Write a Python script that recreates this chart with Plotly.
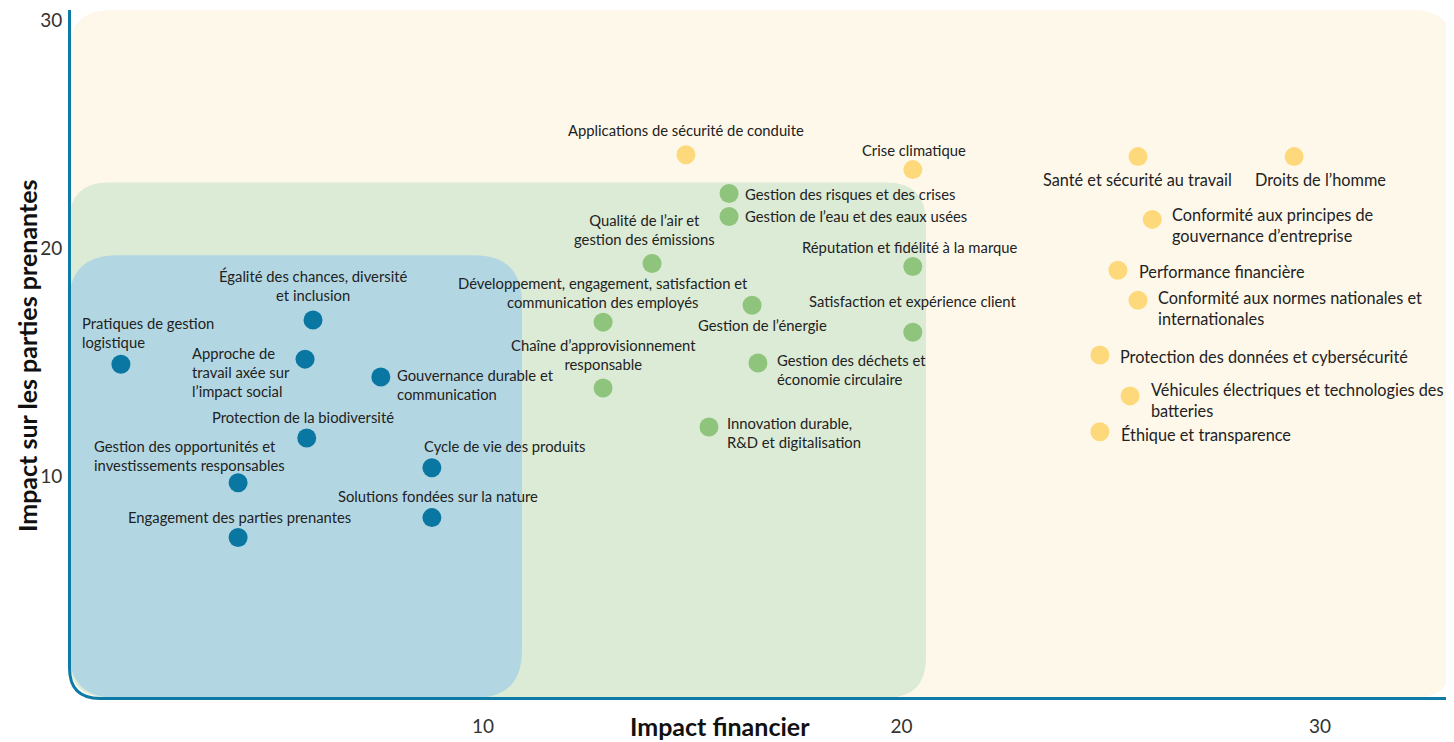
import plotly.graph_objects as go

# ---------------- data ----------------
blue_names = [
    "Pratiques de gestion<br>logistique",
    "Égalité des chances, diversité<br>et inclusion",
    "Approche de<br>travail axée sur<br>l’impact social",
    "Gouvernance durable et<br>communication",
    "Protection de la biodiversité",
    "Gestion des opportunités et<br>investissements responsables",
    "Cycle de vie des produits",
    "Solutions fondées sur la nature",
    "Engagement des parties prenantes",
]
blue_x = [1.35, 5.94, 5.75, 7.56, 5.79, 4.15, 8.78, 8.78, 4.15]
blue_y = [14.93, 16.86, 15.15, 14.37, 11.70, 9.74, 10.39, 8.21, 7.34]

green_names = [
    "Gestion des risques et des crises",
    "Gestion de l’eau et des eaux usées",
    "Qualité de l’air et<br>gestion des émissions",
    "Réputation et fidélité à la marque",
    "Développement, engagement, satisfaction et<br>communication des employés",
    "Gestion de l’énergie",
    "Satisfaction et expérience client",
    "Chaîne d’approvisionnement<br>responsable",
    "Gestion des déchets et<br>économie circulaire",
    "Innovation durable,<br>R&D et digitalisation",
]
green_x = [15.88, 15.88, 14.04, 20.27, 12.87, 16.43, 20.27, 12.87, 16.57, 15.40]
green_y = [22.40, 21.40, 19.34, 19.21, 16.77, 17.51, 16.33, 13.89, 14.98, 12.18]

yellow_names = [
    "Applications de sécurité de conduite",
    "Crise climatique",
    "Santé et sécurité au travail",
    "Droits de l’homme",
    "Conformité aux principes de<br>gouvernance d’entreprise",
    "Performance financière",
    "Conformité aux normes nationales et<br>internationales",
    "Protection des données et cybersécurité",
    "Véhicules électriques et technologies des<br>batteries",
    "Éthique et transparence",
]
yellow_x = [14.85, 20.27, 25.65, 29.38, 25.99, 25.17, 25.65, 24.74, 25.46, 24.74]
yellow_y = [24.10, 23.45, 24.02, 24.02, 21.27, 19.04, 17.73, 15.33, 13.54, 11.97]

tick_vals = [10, 20, 30]
tick_text = ["10", "20", "30"]

# ---------------- label styles (anchor, xshift, yshift, align, size) ----------------
S = 14.8
blue_style = [
    ("left", -41, 32, "left", S),
    ("center", 0, 35, "center", S),
    ("right", -13, -13, "left", S),
    ("left", 14, -8, "left", S),
    ("center", -4, 21, "center", S),
    ("left", -146, 27, "left", S),
    ("left", -10, 22, "left", S),
    ("center", 6, 22, "center", S),
    ("center", 1, 20, "center", S),
]
green_style = [
    ("left", 14, 0, "left", S),
    ("left", 14, 0, "left", S),
    ("center", -8, 34, "center", S),
    ("center", -3, 19, "center", S),
    ("center", 0, 30, "center", S),
    ("center", 10, -20, "center", S),
    ("center", 0, 31, "center", S),
    ("center", 0, 33, "center", S),
    ("left", 17, -6, "left", S),
    ("left", 16, -6, "left", S),
]
Y = 16.3
yellow_style = [
    ("center", 0, 25, "center", S),
    ("center", 1, 20, "center", S),
    ("center", 0, -23, "center", Y),
    ("center", 26, -23, "center", Y),
    ("left", 18, -6, "left", Y),
    ("left", 19, -1, "left", Y),
    ("left", 18, -8, "left", Y),
    ("left", 18, -1, "left", Y),
    ("left", 19, -4, "left", Y),
    ("left", 19, -3, "left", Y),
]

C_BLUE, C_GREEN, C_YELLOW = "#0a77a2", "#8fc47c", "#fed97c"
R_YELLOW, R_GREEN, R_BLUE = "#fef8eb", "#dcebd5", "#b3d7e2"
AXIS = "#0e7ba6"
TXT = "#222222"
FONT = "Lato"

# page has an 8px body margin; geometry below is in page pixels
OFF = 8
W, H = 1454 - OFF, 742 - OFF
L, R, T, B = 69, 1454, 8, 698
PW, PH = R - L, B - T


def px(x):
    return (x - L) / PW


def py(y):
    return 1 - (y - T) / PH


def rrect(x0, y0, x1, y1, r):
    p = [
        f"M {px(x0 + r)} {py(y0)}",
        f"L {px(x1 - r)} {py(y0)}",
        f"Q {px(x1)} {py(y0)} {px(x1)} {py(y0 + r)}",
        f"L {px(x1)} {py(y1 - r)}",
        f"Q {px(x1)} {py(y1)} {px(x1 - r)} {py(y1)}",
        f"L {px(x0 + r)} {py(y1)}",
        f"Q {px(x0)} {py(y1)} {px(x0)} {py(y1 - r)}",
        f"L {px(x0)} {py(y0 + r)}",
        f"Q {px(x0)} {py(y0)} {px(x0 + r)} {py(y0)}",
        "Z",
    ]
    return " ".join(p)


fig = go.Figure()
for xs, ys, c in [(blue_x, blue_y, C_BLUE), (green_x, green_y, C_GREEN), (yellow_x, yellow_y, C_YELLOW)]:
    fig.add_trace(go.Scatter(x=xs, y=ys, mode="markers",
                             marker=dict(size=19, color=c, line=dict(width=0)),
                             showlegend=False, hoverinfo="skip"))

annotations = []
for names, xs, ys, styles in [(blue_names, blue_x, blue_y, blue_style),
                              (green_names, green_x, green_y, green_style),
                              (yellow_names, yellow_x, yellow_y, yellow_style)]:
    for n, x, y, (anc, xs_, ys_, al, fs) in zip(names, xs, ys, styles):
        annotations.append(dict(x=x, y=y, xref="x", yref="y", text=n, showarrow=False,
                                xanchor=anc, yanchor="middle", xshift=xs_, yshift=ys_,
                                align=al, font=dict(family=FONT, size=fs, color=TXT)))

annotations.append(dict(x=px(720), y=py(726), xref="paper", yref="paper",
                        text="<b>Impact financier</b>", showarrow=False,
                        xanchor="center", yanchor="middle",
                        font=dict(family=FONT, size=25, color="#111")))
annotations.append(dict(x=px(27), y=py(355), xref="paper", yref="paper",
                        text="<b>Impact sur les parties prenantes</b>", textangle=-90,
                        showarrow=False, xanchor="center", yanchor="middle",
                        font=dict(family=FONT, size=25, color="#111")))

shapes = [
    dict(type="path", path=rrect(69, 8, 1454, 698, 42), xref="paper", yref="paper",
         fillcolor=R_YELLOW, line=dict(width=0), layer="below"),
    dict(type="path", path=rrect(69, 181, 926, 698, 40), xref="paper", yref="paper",
         fillcolor=R_GREEN, line=dict(width=0), layer="below"),
    dict(type="path", path=rrect(69, 254, 522, 698, 48), xref="paper", yref="paper",
         fillcolor=R_BLUE, line=dict(width=0), layer="below"),
    dict(type="path",
         path=f"M {px(69.5)} {py(8)} L {px(69.5)} {py(668)} Q {px(69.5)} {py(698.5)} {px(100)} {py(698.5)} L {px(1454)} {py(698.5)}",
         xref="paper", yref="paper", line=dict(color=AXIS, width=3), layer="below"),
]

fig.update_layout(
    width=W, height=H,
    margin=dict(l=L - OFF, r=1454 - R, t=T - OFF, b=742 - B),
    paper_bgcolor="white", plot_bgcolor="rgba(0,0,0,0)",
    xaxis=dict(range=[0.11, 33.2], tickvals=tick_vals, ticktext=tick_text, showgrid=False,
               zeroline=False, showline=False, ticks="outside", ticklen=11, tickcolor="rgba(0,0,0,0)",
               ticklabeloverflow="allow",
               tickfont=dict(family=FONT, size=19, color="#333")),
    yaxis=dict(range=[0.31, 30.44], tickvals=tick_vals, ticktext=tick_text, showgrid=False,
               zeroline=False, showline=False, ticks="outside", ticklen=2, tickcolor="rgba(0,0,0,0)",
               ticklabeloverflow="allow",
               tickfont=dict(family=FONT, size=19, color="#333")),
    shapes=shapes,
    annotations=annotations,
)

fig.write_html("out.html")
